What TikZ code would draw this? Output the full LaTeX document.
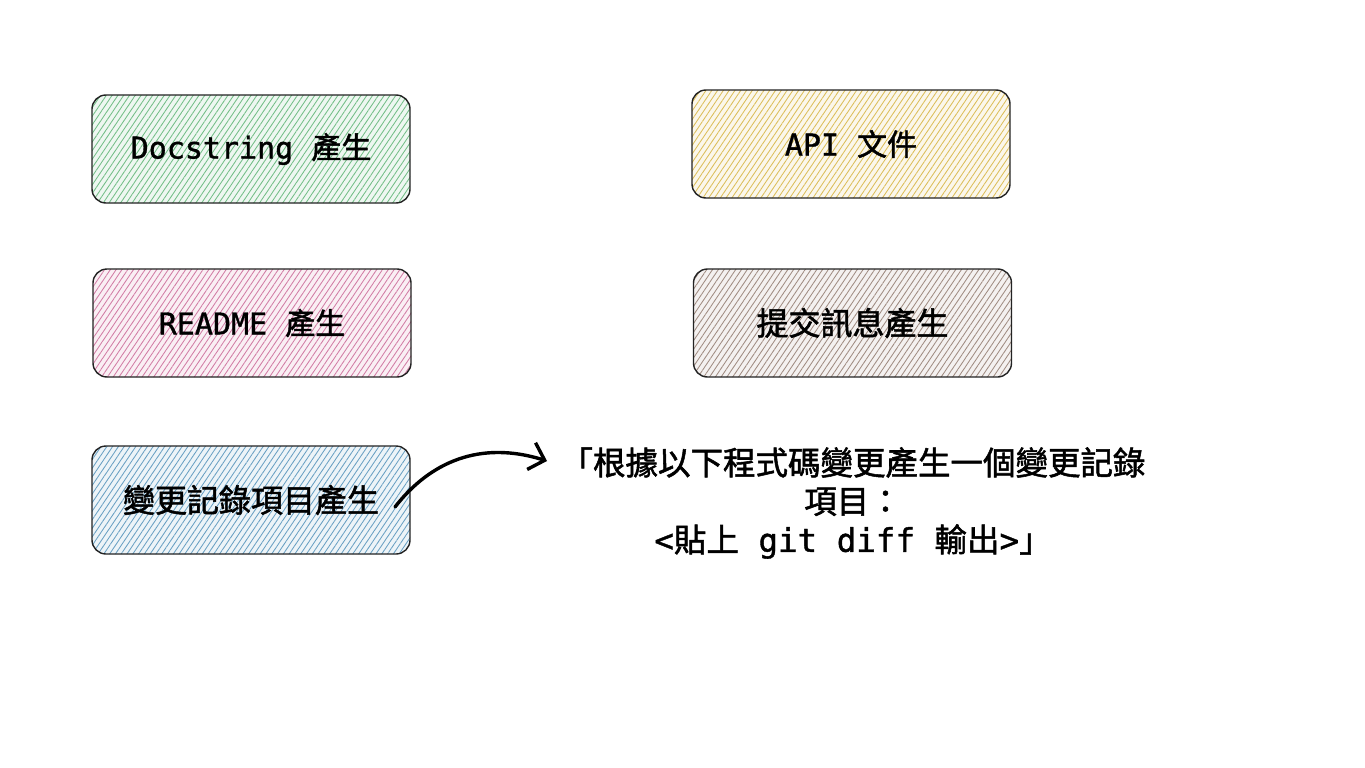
\documentclass[tikz,border=0pt]{standalone}
\usepackage{fontspec}
\setmonofont[FakeBold=1.2]{DejaVu Sans Mono}
\newfontfamily\cjk[FakeBold=1.6]{Noto Sans CJK TC}
\usetikzlibrary{patterns.meta,arrows.meta}
\definecolor{hgreen}{RGB}{115,190,135}
\definecolor{hyellow}{RGB}{220,190,90}
\definecolor{hpink}{RGB}{210,125,165}
\definecolor{htaupe}{RGB}{160,140,130}
\definecolor{hblue}{RGB}{105,160,195}
\definecolor{edge}{RGB}{35,35,35}
\tikzset{
  hbox/.style={draw=edge, line width=1.4pt, rounded corners=14pt,
    minimum width=318pt, minimum height=108pt, inner sep=0pt,
    font=\fontsize{30}{36}\selectfont},
  bigtext/.style={font=\fontsize{32}{38}\selectfont},
  hatch/.style={preaction={fill=#1!12},
    pattern={Lines[angle=56,distance=4.8pt,line width=0.85pt]}, pattern color=#1},
  prompt/.style={align=center, font=\fontsize{32.5}{38.5}\selectfont, inner sep=0pt},
  hand/.style={line width=3.4pt, line cap=round, -{Straight Barb[length=14pt,width=28pt,line width=3.4pt]}}
}
\begin{document}
\begin{tikzpicture}[x=1pt,y=-1pt]
\useasboundingbox[fill=white] (0,0) rectangle (1365,768);
\node[hbox, hatch=hgreen] (doc) at (251,149) {\ttfamily Docstring {\cjk 產生}};
\node[hbox, hatch=hyellow] (api) at (851,144) {\ttfamily API {\cjk 文件}};
\node[hbox, hatch=hpink] (readme) at (252,323) {\ttfamily README {\cjk 產生}};
\node[hbox, bigtext, hatch=htaupe] (commit) at (852.5,323) {\cjk 提交訊息產生};
\node[hbox, bigtext, hatch=hblue] (change) at (251,500) {\cjk 變更記錄項目產生};
\node[prompt] (ptext) at (853,503) {{\cjk 「根據以下程式碼變更產生一個變更記錄}\\{\cjk 項目：}\\\texttt{<}{\cjk 貼上}\texttt{ git diff }{\cjk 輸出}\texttt{>}{\cjk 」}};
\coordinate (a0) at (395,507);
\coordinate (a1) at (547,461);
\draw[hand] (a0) .. controls (430,462) and (480,440) .. (a1);
\end{tikzpicture}
\end{document}
